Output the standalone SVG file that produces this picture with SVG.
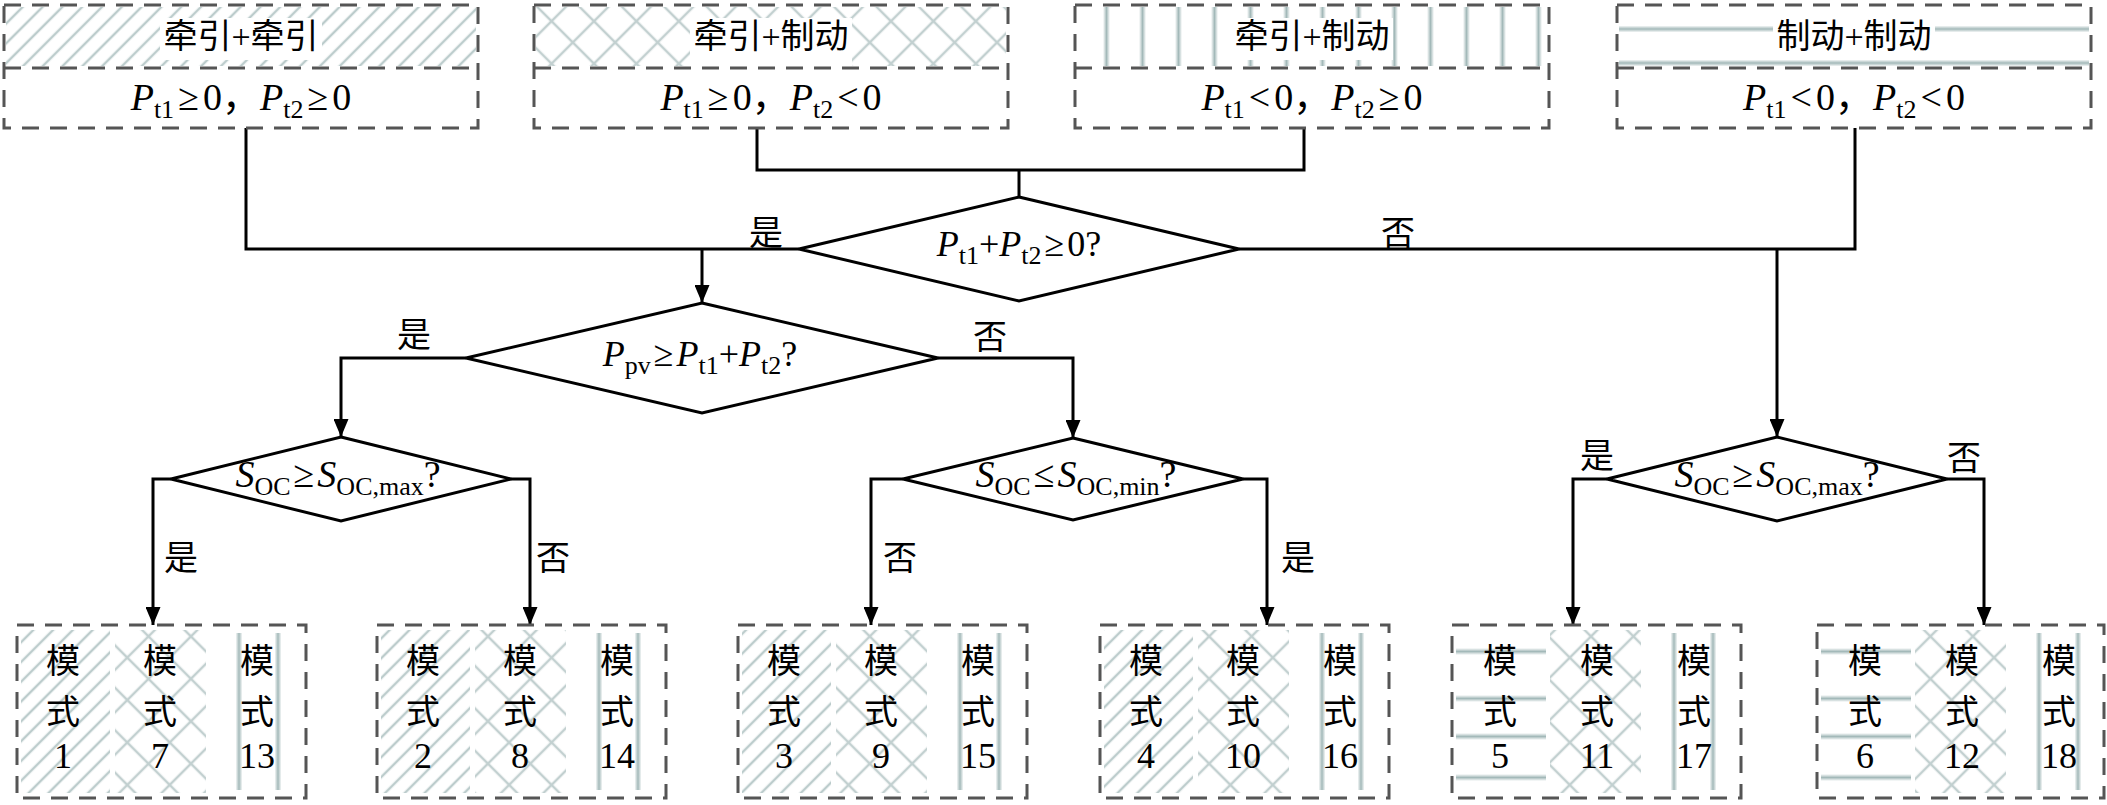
<svg xmlns="http://www.w3.org/2000/svg" width="2107" height="805" viewBox="0 0 2107 805">
<defs>
<style>
.dash{fill:none;stroke:#555;stroke-width:3;stroke-dasharray:17 11}
.ln{fill:none;stroke:#000;stroke-width:3}
.dia{fill:#fff;stroke:#000;stroke-width:3}
.cn{font-family:"Liberation Serif","Noto Sans CJK SC",serif;font-size:34px;fill:#000}
.m{font-family:"Liberation Serif","Noto Sans CJK SC",serif;font-size:38px;fill:#000}
.m2{font-family:"Liberation Serif","Noto Sans CJK SC",serif;font-size:36px;fill:#000}
.num{font-family:"Liberation Serif",serif;font-size:36px;fill:#000}
.it{font-style:italic}
.sub{font-size:26px;font-style:normal}
</style>
<pattern id="hatch" patternUnits="userSpaceOnUse" width="14" height="14" patternTransform="rotate(45)">
<line x1="7" y1="0" x2="7" y2="14" stroke="#bccccc" stroke-width="2.5"/>
</pattern>
<pattern id="cross" patternUnits="userSpaceOnUse" width="30" height="30" patternTransform="rotate(45)">
<path d="M0,15 H30 M15,0 V30" stroke="#c2d0d0" stroke-width="2.5" fill="none"/>
</pattern>
<linearGradient id="gv" x1="0" y1="0" x2="1" y2="0">
<stop offset="0" stop-color="#fff"/><stop offset="0.5" stop-color="#a3b9b9"/><stop offset="1" stop-color="#fff"/>
</linearGradient>
<linearGradient id="gh" x1="0" y1="0" x2="0" y2="1">
<stop offset="0" stop-color="#fff"/><stop offset="0.5" stop-color="#a3b9b9"/><stop offset="1" stop-color="#fff"/>
</linearGradient>
<pattern id="vstripes" patternUnits="userSpaceOnUse" x="1088" y="0" width="36" height="10">
<rect x="15" y="0" width="7" height="10" fill="url(#gv)"/>
</pattern>
<pattern id="hstripes" patternUnits="userSpaceOnUse" x="0" y="12" width="10" height="34">
<rect x="0" y="13.5" width="10" height="7" fill="url(#gh)"/>
</pattern>
<marker id="arr" markerUnits="userSpaceOnUse" markerWidth="18" markerHeight="15" viewBox="0 0 18 15" refX="18" refY="7.5" orient="auto">
<path d="M0,0 L18,7.5 L0,15 Z" fill="#000"/>
</marker>
</defs>
<rect width="2107" height="805" fill="#fff"/>

<g id="connectors">
<path class="ln" d="M246,128 V249 H799"/>
<path class="ln" d="M757,128 V170 H1304 V128"/>
<path class="ln" d="M1019,170 V197"/>
<path class="ln" d="M1855,128 V249 H1239"/>
<path class="ln" d="M702,249 V303" marker-end="url(#arr)"/>
<path class="ln" d="M1777,249 V437" marker-end="url(#arr)"/>
<path class="ln" d="M466,358 H341 V437" marker-end="url(#arr)"/>
<path class="ln" d="M938,358 H1073 V438" marker-end="url(#arr)"/>
<path class="ln" d="M171,479 H153 V625" marker-end="url(#arr)"/>
<path class="ln" d="M511,479 H530 V625" marker-end="url(#arr)"/>
<path class="ln" d="M903,479 H871 V625" marker-end="url(#arr)"/>
<path class="ln" d="M1243,479 H1267 V625" marker-end="url(#arr)"/>
<path class="ln" d="M1607,479 H1573 V625" marker-end="url(#arr)"/>
<path class="ln" d="M1947,479 H1984 V625" marker-end="url(#arr)"/>
<text class="cn" x="766" y="245" text-anchor="middle">是</text>
<text class="cn" x="1398" y="245" text-anchor="middle">否</text>
<text class="cn" x="414" y="347" text-anchor="middle">是</text>
<text class="cn" x="990" y="349" text-anchor="middle">否</text>
<text class="cn" x="181" y="570" text-anchor="middle">是</text>
<text class="cn" x="553" y="570" text-anchor="middle">否</text>
<text class="cn" x="900" y="570" text-anchor="middle">否</text>
<text class="cn" x="1298" y="570" text-anchor="middle">是</text>
<text class="cn" x="1597" y="468" text-anchor="middle">是</text>
<text class="cn" x="1964" y="470" text-anchor="middle">否</text>
</g>

<g id="top1">
<rect x="6" y="7" width="470" height="59" fill="url(#hatch)"/>
<rect x="160" y="18" width="162" height="42" fill="#fff"/>
<rect class="dash" x="4" y="5" width="474" height="123"/>
<line class="dash" x1="4" y1="68" x2="478" y2="68"/>
<text class="cn" x="241" y="48" text-anchor="middle">牵引+牵引</text>
<text class="m" x="241" y="110" text-anchor="middle"><tspan class="it">P</tspan><tspan class="sub" dy="8">t1</tspan><tspan dy="-8" dx="4">≥</tspan><tspan dx="4">0，</tspan><tspan class="it">P</tspan><tspan class="sub" dy="8">t2</tspan><tspan dy="-8" dx="4">≥</tspan><tspan dx="4">0</tspan></text>
</g>

<g id="top2">
<rect x="536" y="7" width="470" height="59" fill="url(#cross)"/>
<rect x="690" y="18" width="162" height="48" fill="#fff"/>
<rect class="dash" x="534" y="5" width="474" height="123"/>
<line class="dash" x1="534" y1="68" x2="1008" y2="68"/>
<text class="cn" x="771" y="48" text-anchor="middle">牵引+制动</text>
<text class="m" x="771" y="110" text-anchor="middle"><tspan class="it">P</tspan><tspan class="sub" dy="8">t1</tspan><tspan dy="-8" dx="4">≥</tspan><tspan dx="4">0，</tspan><tspan class="it">P</tspan><tspan class="sub" dy="8">t2</tspan><tspan dy="-8" dx="4">&lt;</tspan><tspan dx="4">0</tspan></text>
</g>

<g id="top3">
<rect x="1077" y="7" width="470" height="59" fill="url(#vstripes)"/>
<rect x="1231" y="18" width="162" height="42" fill="#fff"/>
<rect class="dash" x="1075" y="5" width="474" height="123"/>
<line class="dash" x1="1075" y1="68" x2="1549" y2="68"/>
<text class="cn" x="1312" y="48" text-anchor="middle">牵引+制动</text>
<text class="m" x="1312" y="110" text-anchor="middle"><tspan class="it">P</tspan><tspan class="sub" dy="8">t1</tspan><tspan dy="-8" dx="4">&lt;</tspan><tspan dx="4">0，</tspan><tspan class="it">P</tspan><tspan class="sub" dy="8">t2</tspan><tspan dy="-8" dx="4">≥</tspan><tspan dx="4">0</tspan></text>
</g>

<g id="top4">
<rect x="1619" y="7" width="470" height="59" fill="url(#hstripes)"/>
<rect x="1773" y="20" width="162" height="36" fill="#fff"/>
<rect class="dash" x="1617" y="5" width="474" height="123"/>
<line class="dash" x1="1617" y1="68" x2="2091" y2="68"/>
<text class="cn" x="1854" y="48" text-anchor="middle">制动+制动</text>
<text class="m" x="1854" y="110" text-anchor="middle"><tspan class="it">P</tspan><tspan class="sub" dy="8">t1</tspan><tspan dy="-8" dx="4">&lt;</tspan><tspan dx="4">0，</tspan><tspan class="it">P</tspan><tspan class="sub" dy="8">t2</tspan><tspan dy="-8" dx="4">&lt;</tspan><tspan dx="4">0</tspan></text>
</g>

<g id="d1">
<polygon class="dia" points="1019,197 1239,249 1019,301 799,249"/>
<text class="m2" x="1019" y="256" text-anchor="middle"><tspan class="it">P</tspan><tspan class="sub" dy="8">t1</tspan><tspan dy="-8">+</tspan><tspan class="it">P</tspan><tspan class="sub" dy="8">t2</tspan><tspan dy="-8" dx="3">≥</tspan><tspan dx="3">0?</tspan></text>
</g>

<g id="d2">
<polygon class="dia" points="702,303 938,358 702,413 466,358"/>
<text class="m2" x="700" y="366" text-anchor="middle"><tspan class="it">P</tspan><tspan class="sub" dy="8">pv</tspan><tspan dy="-8" dx="3">≥</tspan><tspan class="it" dx="3">P</tspan><tspan class="sub" dy="8">t1</tspan><tspan dy="-8">+</tspan><tspan class="it">P</tspan><tspan class="sub" dy="8">t2</tspan><tspan dy="-8">?</tspan></text>
</g>

<g id="d4">
<polygon class="dia" points="341,437 511,479 341,521 171,479"/>
<text class="m" x="338" y="487" text-anchor="middle"><tspan class="it">S</tspan><tspan class="sub" dy="8">OC</tspan><tspan dy="-8" dx="3">≥</tspan><tspan class="it" dx="3">S</tspan><tspan class="sub" dy="8">OC,max</tspan><tspan dy="-8">?</tspan></text>
</g>

<g id="d5">
<polygon class="dia" points="1073,438 1243,479 1073,520 903,479"/>
<text class="m" x="1076" y="487" text-anchor="middle"><tspan class="it">S</tspan><tspan class="sub" dy="8">OC</tspan><tspan dy="-8" dx="3">≤</tspan><tspan class="it" dx="3">S</tspan><tspan class="sub" dy="8">OC,min</tspan><tspan dy="-8">?</tspan></text>
</g>

<g id="d6">
<polygon class="dia" points="1777,437 1947,479 1777,521 1607,479"/>
<text class="m" x="1777" y="487" text-anchor="middle"><tspan class="it">S</tspan><tspan class="sub" dy="8">OC</tspan><tspan dy="-8" dx="3">≥</tspan><tspan class="it" dx="3">S</tspan><tspan class="sub" dy="8">OC,max</tspan><tspan dy="-8">?</tspan></text>
</g>

<g id="modes-1-7-13">
<rect x="21" y="630" width="89" height="163" fill="url(#hatch)"/>
<rect x="115" y="630" width="91" height="163" fill="url(#cross)"/>
<rect x="235.5" y="633" width="7" height="157" fill="url(#gv)"/>
<rect x="274.5" y="633" width="7" height="157" fill="url(#gv)"/>
<rect class="dash" x="17" y="625" width="289" height="173"/>
<text class="cn" text-anchor="middle"><tspan x="63" y="673">模</tspan><tspan x="63" y="724">式</tspan><tspan x="160" y="673">模</tspan><tspan x="160" y="724">式</tspan><tspan x="257" y="673">模</tspan><tspan x="257" y="724">式</tspan></text>
<text class="num" text-anchor="middle" y="768"><tspan x="63">1</tspan><tspan x="160">7</tspan><tspan x="257">13</tspan></text>
</g>

<g id="modes-2-8-14">
<rect x="381" y="630" width="89" height="163" fill="url(#hatch)"/>
<rect x="475" y="630" width="91" height="163" fill="url(#cross)"/>
<rect x="595.5" y="633" width="7" height="157" fill="url(#gv)"/>
<rect x="634.5" y="633" width="7" height="157" fill="url(#gv)"/>
<rect class="dash" x="377" y="625" width="289" height="173"/>
<text class="cn" text-anchor="middle"><tspan x="423" y="673">模</tspan><tspan x="423" y="724">式</tspan><tspan x="520" y="673">模</tspan><tspan x="520" y="724">式</tspan><tspan x="617" y="673">模</tspan><tspan x="617" y="724">式</tspan></text>
<text class="num" text-anchor="middle" y="768"><tspan x="423">2</tspan><tspan x="520">8</tspan><tspan x="617">14</tspan></text>
</g>

<g id="modes-3-9-15">
<rect x="742" y="630" width="89" height="163" fill="url(#hatch)"/>
<rect x="836" y="630" width="91" height="163" fill="url(#cross)"/>
<rect x="956.5" y="633" width="7" height="157" fill="url(#gv)"/>
<rect x="995.5" y="633" width="7" height="157" fill="url(#gv)"/>
<rect class="dash" x="738" y="625" width="289" height="173"/>
<text class="cn" text-anchor="middle"><tspan x="784" y="673">模</tspan><tspan x="784" y="724">式</tspan><tspan x="881" y="673">模</tspan><tspan x="881" y="724">式</tspan><tspan x="978" y="673">模</tspan><tspan x="978" y="724">式</tspan></text>
<text class="num" text-anchor="middle" y="768"><tspan x="784">3</tspan><tspan x="881">9</tspan><tspan x="978">15</tspan></text>
</g>

<g id="modes-4-10-16">
<rect x="1104" y="630" width="89" height="163" fill="url(#hatch)"/>
<rect x="1198" y="630" width="91" height="163" fill="url(#cross)"/>
<rect x="1318.5" y="633" width="7" height="157" fill="url(#gv)"/>
<rect x="1357.5" y="633" width="7" height="157" fill="url(#gv)"/>
<rect class="dash" x="1100" y="625" width="289" height="173"/>
<text class="cn" text-anchor="middle"><tspan x="1146" y="673">模</tspan><tspan x="1146" y="724">式</tspan><tspan x="1243" y="673">模</tspan><tspan x="1243" y="724">式</tspan><tspan x="1340" y="673">模</tspan><tspan x="1340" y="724">式</tspan></text>
<text class="num" text-anchor="middle" y="768"><tspan x="1146">4</tspan><tspan x="1243">10</tspan><tspan x="1340">16</tspan></text>
</g>

<g id="modes-5-11-17">
<rect x="1456" y="648" width="90" height="7" fill="url(#gh)"/>
<rect x="1456" y="695" width="90" height="7" fill="url(#gh)"/>
<rect x="1456" y="733" width="90" height="7" fill="url(#gh)"/>
<rect x="1456" y="774" width="90" height="7" fill="url(#gh)"/>
<rect x="1550" y="630" width="91" height="163" fill="url(#cross)"/>
<rect x="1670.5" y="633" width="7" height="157" fill="url(#gv)"/>
<rect x="1709.5" y="633" width="7" height="157" fill="url(#gv)"/>
<rect class="dash" x="1452" y="625" width="289" height="173"/>
<text class="cn" text-anchor="middle"><tspan x="1500" y="673">模</tspan><tspan x="1500" y="724">式</tspan><tspan x="1597" y="673">模</tspan><tspan x="1597" y="724">式</tspan><tspan x="1694" y="673">模</tspan><tspan x="1694" y="724">式</tspan></text>
<text class="num" text-anchor="middle" y="768"><tspan x="1500">5</tspan><tspan x="1597">11</tspan><tspan x="1694">17</tspan></text>
</g>

<g id="modes-6-12-18">
<rect x="1821" y="648" width="90" height="7" fill="url(#gh)"/>
<rect x="1821" y="695" width="90" height="7" fill="url(#gh)"/>
<rect x="1821" y="733" width="90" height="7" fill="url(#gh)"/>
<rect x="1821" y="774" width="90" height="7" fill="url(#gh)"/>
<rect x="1915" y="630" width="91" height="163" fill="url(#cross)"/>
<rect x="2035.5" y="633" width="7" height="157" fill="url(#gv)"/>
<rect x="2074.5" y="633" width="7" height="157" fill="url(#gv)"/>
<rect class="dash" x="1817" y="625" width="287" height="173"/>
<text class="cn" text-anchor="middle"><tspan x="1865" y="673">模</tspan><tspan x="1865" y="724">式</tspan><tspan x="1962" y="673">模</tspan><tspan x="1962" y="724">式</tspan><tspan x="2059" y="673">模</tspan><tspan x="2059" y="724">式</tspan></text>
<text class="num" text-anchor="middle" y="768"><tspan x="1865">6</tspan><tspan x="1962">12</tspan><tspan x="2059">18</tspan></text>
</g>
</svg>
